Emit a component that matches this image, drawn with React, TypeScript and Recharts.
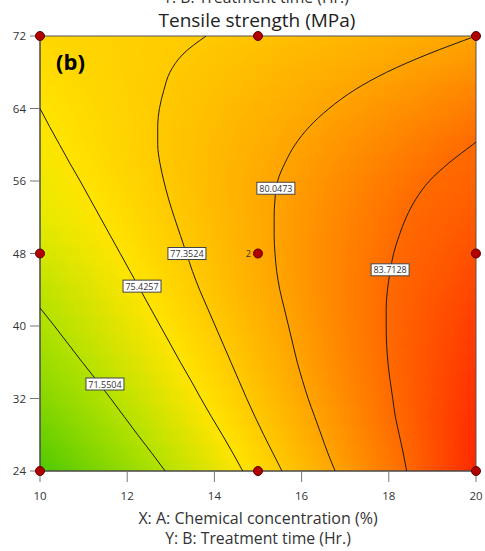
import React from 'react';
import { ComposedChart, XAxis, YAxis, Scatter, ReferenceArea } from 'recharts';

// rows of the response surface (B: treatment time)
const ROWS_Y = [24, 26, 28, 30, 32, 34, 36, 38, 40, 42, 44, 46, 48, 50, 52, 54, 56, 58, 60, 62, 64, 66, 68, 70, 72];

// x position (A: concentration) of each contour on each row
const C71_X = [12.87, 12.56, 12.24, 11.93, 11.62, 11.3, 10.97, 10.65, 10.33, 10.0, null, null, null, null, null, null, null, null, null, null, null, null, null, null, null];
const C75_X = [14.65, 14.42, 14.18, 13.93, 13.69, 13.46, 13.22, 12.99, 12.76, 12.53, 12.3, 12.07, 11.84, 11.61, 11.38, 11.15, 10.92, 10.68, 10.45, 10.22, 10.0, null, null, null, null];
const C77_X = [15.55, 15.34, 15.13, 14.93, 14.74, 14.56, 14.38, 14.2, 14.02, 13.84, 13.66, 13.5, 13.36, 13.22, 13.08, 12.95, 12.84, 12.75, 12.7, 12.7, 12.74, 12.84, 12.98, 13.28, 13.81];
const C80_X = [16.77, 16.6, 16.45, 16.3, 16.15, 16.02, 15.9, 15.8, 15.7, 15.6, 15.5, 15.43, 15.39, 15.37, 15.37, 15.39, 15.45, 15.62, 15.85, 16.18, 16.63, 17.2, 17.95, 18.9, 20.0];
const C83_X = [18.41, 18.33, 18.24, 18.15, 18.09, 18.03, 17.98, 17.95, 17.94, 17.94, 17.97, 18.03, 18.11, 18.24, 18.4, 18.62, 18.93, 19.38, 19.92, null, null, null, null, null, null];
const C83_END = { x: 20, y: 60.3 };

// estimated response at the left (A=10) and right (A=20) edges of each row
const LEFT_EDGE = [68.6, 69.0, 69.4, 69.8, 70.2, 70.5, 70.8, 71.1, 71.35, 71.55, 71.9, 72.3, 72.7, 73.1, 73.4, 73.8, 74.1, 74.5, 74.8, 75.1, 75.43, 75.7, 75.95, 76.2, 76.45];
const RIGHT_EDGE = [87.6, 87.5, 87.4, 87.3, 87.1, 87.0, 86.8, 86.6, 86.4, 86.2, 85.9, 85.6, 85.3, 85.0, 84.7, 84.4, 84.2, 84.0, 83.75, 83.2, 82.6, 82.0, 81.3, 80.7, 80.05];

const LEVELS = [71.5504, 75.4257, 77.3524, 80.0473, 83.7128];
const LEVEL_LABELS = [
  { x: 11.49, y: 33.6, text: '71.5504' },
  { x: 12.34, y: 44.4, text: '75.4257' },
  { x: 13.37, y: 48.0, text: '77.3524' },
  { x: 15.41, y: 55.2, text: '80.0473' },
  { x: 18.03, y: 46.2, text: '83.7128' },
];

// design points, reps = number of runs at that point
const DESIGN_POINTS = [
  { x: 10, y: 24, reps: 1 }, { x: 15, y: 24, reps: 1 }, { x: 20, y: 24, reps: 1 },
  { x: 10, y: 48, reps: 1 }, { x: 15, y: 48, reps: 2 }, { x: 20, y: 48, reps: 1 },
  { x: 10, y: 72, reps: 1 }, { x: 15, y: 72, reps: 1 }, { x: 20, y: 72, reps: 1 },
];

const X_TICKS = [10, 12, 14, 16, 18, 20];
const Y_TICKS = [24, 32, 40, 48, 56, 64, 72];

const COLOR_STOPS: [number, number[]][] = [
  [68.5, [76, 200, 0]],
  [71.55, [180, 226, 0]],
  [73.5, [232, 234, 0]],
  [75.43, [255, 228, 0]],
  [77.35, [255, 202, 0]],
  [80.05, [255, 164, 0]],
  [83.71, [255, 106, 0]],
  [87.6, [255, 40, 0]],
];

function colorAt(v: number) {
  if (v <= COLOR_STOPS[0][0]) return `rgb(${COLOR_STOPS[0][1].join(',')})`;
  for (let i = 1; i < COLOR_STOPS.length; i++) {
    const [v1, c1] = COLOR_STOPS[i];
    const [v0, c0] = COLOR_STOPS[i - 1];
    if (v <= v1) {
      const t = (v - v0) / (v1 - v0);
      const c = c0.map((a, k) => Math.round(a + (c1[k] - a) * t));
      return `rgb(${c.join(',')})`;
    }
  }
  return `rgb(${COLOR_STOPS[COLOR_STOPS.length - 1][1].join(',')})`;
}

const CONTOURS_X = [C71_X, C75_X, C77_X, C80_X, C83_X];

// each strip runs from its row up past the top of the plot; the next row is drawn over it,
// and a vertical blur softens the seams between rows
const strips = ROWS_Y.map((y, i) => {
  const stops = [{ offset: 0, color: colorAt(LEFT_EDGE[i]) }];
  CONTOURS_X.forEach((xs, k) => {
    const x = xs[i];
    if (x != null) stops.push({ offset: (x - 10) / 10, color: colorAt(LEVELS[k]) });
  });
  stops.push({ offset: 1, color: colorAt(RIGHT_EDGE[i]) });
  return { id: `strip${i}`, y1: i === 0 ? 20 : y - 1, y2: 76, stops };
});

const contourLines = CONTOURS_X.map((xs, k) => {
  const pts = ROWS_Y.map((y, i) => ({ x: xs[i], y })).filter((p) => p.x != null);
  if (k === 4) pts.push(C83_END);
  return pts;
});

const FONT = '"Open Sans", "Noto Sans", sans-serif';

const NoShape = () => <g />;

const LevelLabel = (props: any) => {
  const { cx, cy, payload } = props;
  return (
    <g>
      <rect x={cx - 19} y={cy - 6} width={38} height={12} fill="#fff" stroke="#444" strokeWidth={1} />
      <text x={cx} y={cy} textAnchor="middle" dominantBaseline="central" fontSize={9} fontFamily={FONT} fill="#333">
        {payload.text}
      </text>
    </g>
  );
};

const DesignDot = (props: any) => {
  const { cx, cy, payload } = props;
  return (
    <g>
      <circle cx={cx} cy={cy} r={4.5} fill="#b20000" stroke="#5a0000" strokeWidth={1} />
      {payload.reps > 1 && (
        <text x={cx - 7} y={cy} textAnchor="end" dominantBaseline="central" fontSize={9} fontFamily={FONT} fill="#333">
          {payload.reps}
        </text>
      )}
    </g>
  );
};

const StripShape = (id: string) => (p: any) => (
  <rect
    x={p.x}
    y={p.y}
    width={p.width}
    height={p.height}
    fill={`url(#${id})`}
    filter="url(#vblur)"
    clipPath={p.clipPath}
  />
);

export default function App() {
  return (
    <div style={{ position: 'absolute', left: 0, top: 0, width: 485, height: 551, background: '#fff' }}>
      <ComposedChart width={485} height={551} margin={{ top: 36, right: 9, bottom: 50, left: 10 }}>
        <defs>
          <filter id="vblur" x="0" y="-0.2" width="1" height="1.4">
            <feGaussianBlur stdDeviation="0 5" />
          </filter>
          {strips.map((s) => (
            <linearGradient key={s.id} id={s.id} x1="0" y1="0" x2="1" y2="0">
              {s.stops.map((st, j) => (
                <stop key={j} offset={st.offset} stopColor={st.color} />
              ))}
            </linearGradient>
          ))}
        </defs>
        <XAxis
          type="number"
          dataKey="x"
          domain={[10, 20]}
          ticks={X_TICKS}
          height={30}
          tickSize={11}
          tickMargin={10}
          axisLine={{ stroke: '#444' }}
          tickLine={{ stroke: '#777' }}
          tick={{ fontSize: 11.5, fill: '#333', fontFamily: FONT }}
        />
        <YAxis
          type="number"
          dataKey="y"
          domain={[24, 72]}
          ticks={Y_TICKS}
          width={30}
          tickSize={10}
          tickMargin={4}
          axisLine={{ stroke: '#444' }}
          tickLine={{ stroke: '#777' }}
          tick={{ fontSize: 11.5, fill: '#333', fontFamily: FONT }}
        />
        {strips.map((s) => (
          <ReferenceArea
            key={s.id}
            x1={10}
            x2={20}
            y1={s.y1}
            y2={s.y2}
            ifOverflow="hidden"
            fillOpacity={1}
            shape={StripShape(s.id)}
          />
        ))}
        <ReferenceArea x1={10} x2={20} y1={24} y2={72} fill="none" fillOpacity={0} stroke="#555" strokeWidth={1} />
        {contourLines.map((pts, k) => (
          <Scatter
            key={k}
            data={pts}
            line={{ stroke: '#1c1c1c', strokeWidth: 1 }}
            lineJointType="monotoneY"
            shape={NoShape}
            isAnimationActive={false}
          />
        ))}
        <Scatter data={LEVEL_LABELS} shape={LevelLabel} isAnimationActive={false} />
        <Scatter data={DESIGN_POINTS} shape={DesignDot} isAnimationActive={false} />
      </ComposedChart>
      <svg width={485} height={551} style={{ position: 'absolute', left: 0, top: 0, pointerEvents: 'none' }}>
        <text x={256} y={2.5} textAnchor="middle" fontSize={15.8} fontFamily={FONT} fill="#333">
          Y: B: Treatment time (Hr.)
        </text>
        <text x={257} y={27} textAnchor="middle" fontSize={19} fontFamily={FONT} fill="#222">
          Tensile strength (MPa)
        </text>
        <text x={56} y={70} fontSize={22} fontWeight="bold" fontFamily={FONT} fill="#000">
          (b)
        </text>
        <text x={258} y={523.5} textAnchor="middle" fontSize={16} fontFamily={FONT} fill="#333">
          X: A: Chemical concentration (%)
        </text>
        <text x={258} y={544} textAnchor="middle" fontSize={15.8} fontFamily={FONT} fill="#333">
          Y: B: Treatment time (Hr.)
        </text>
      </svg>
    </div>
  );
}
